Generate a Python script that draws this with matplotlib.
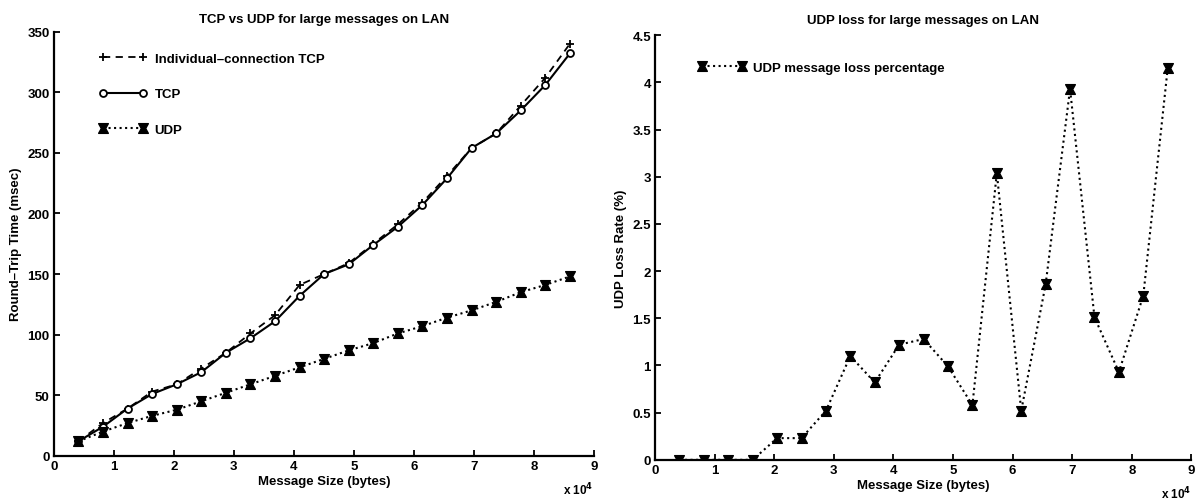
import numpy as np
import matplotlib.pyplot as plt
from matplotlib.path import Path
from matplotlib.ticker import FuncFormatter

plt.rcParams['font.family'] = ['Liberation Sans', 'DejaVu Sans']
plt.rcParams['font.weight'] = 'bold'
plt.rcParams['axes.titleweight'] = 'bold'
plt.rcParams['axes.labelweight'] = 'bold'

# message sizes: multiples of 4 KB
msg_size = [4096 * k for k in range(1, 22)]

tcp_individual = [12, 27, 39, 53, 59, 72, 85, 101, 116, 141, 150, 159,
                  175, 191, 209, 231, 254, 266, 289, 312, 340]
tcp = [12, 24, 39, 51, 59, 69, 85, 97, 111, 132, 150, 158,
       174, 189, 207, 229, 254, 266, 285, 306, 332]
udp = [12, 20, 27, 33, 38, 45, 52, 59, 66, 73, 80, 87,
       93, 101, 107, 114, 120, 127, 135, 141, 148]

udp_loss = [0, 0, 0, 0, 0.23, 0.23, 0.52, 1.10, 0.82, 1.22, 1.28, 0.99,
            0.58, 3.04, 0.52, 1.86, 3.93, 1.51, 0.93, 1.74, 4.15]

# hourglass shaped marker for the UDP points
hourglass = Path([(-1, 1), (1, 1), (0.45, 0), (1, -1), (-1, -1), (-0.45, 0), (-1, 1)],
                 [Path.MOVETO] + [Path.LINETO] * 5 + [Path.CLOSEPOLY])

fig = plt.figure(figsize=(11.96, 5.02), dpi=100)
ax1 = fig.add_axes([0.045, 0.090, 0.4515, 0.845])
ax2 = fig.add_axes([0.5477, 0.082, 0.4485, 0.846])

fs = 9.5


def style_axes(ax, ylim, yticks):
    ax.set_xlim(0, 9e4)
    ax.set_ylim(*ylim)
    ax.set_xticks([i * 1e4 for i in range(10)])
    ax.xaxis.set_major_formatter(FuncFormatter(lambda v, _: f"{v / 1e4:g}"))
    ax.set_yticks(yticks)
    ax.set_yticklabels([f"{v:g}" for v in yticks])
    for s in ['top', 'right']:
        ax.spines[s].set_visible(False)
    for s in ['left', 'bottom']:
        ax.spines[s].set_linewidth(1.6)
    ax.tick_params(direction='in', length=4, width=1.3, labelsize=fs, pad=3)
    ax.text(1.0, -0.078, r'x 10$^4$', transform=ax.transAxes, fontsize=fs - 1,
            ha='right', va='center')


# round-trip time
ax1.plot(msg_size, tcp_individual, '--', color='black', lw=1.3, marker='+',
         ms=6, mew=1.3, label='Individual\u2013connection TCP', dashes=(4, 3))
ax1.plot(msg_size, tcp, '-', color='black', lw=1.5, marker='o', ms=5,
         mfc='white', mew=1.3, label='TCP')
ax1.plot(msg_size, udp, ':', color='black', lw=1.5, marker=hourglass, ms=7,
         label='UDP')
style_axes(ax1, (0, 350), list(range(0, 351, 50)))
ax1.set_title('TCP vs UDP for large messages on LAN', fontsize=fs, pad=7)
ax1.set_xlabel('Message Size (bytes)', fontsize=fs, labelpad=2)
ax1.set_ylabel('Round\u2013Trip Time (msec)', fontsize=fs, labelpad=4)
ax1.legend(loc='upper left', bbox_to_anchor=(0.062, 0.978), frameon=False,
           fontsize=fs, handlelength=3.6, labelspacing=1.75,
           handletextpad=0.6, numpoints=2)

# UDP loss
ax2.plot(msg_size, udp_loss, ':', color='black', lw=1.5, marker=hourglass,
         ms=7, label='UDP message loss percentage')
style_axes(ax2, (0, 4.5), [0, 0.5, 1, 1.5, 2, 2.5, 3, 3.5, 4, 4.5])
ax2.set_title('UDP loss for large messages on LAN', fontsize=fs, pad=9)
ax2.set_xlabel('Message Size (bytes)', fontsize=fs, labelpad=2)
ax2.set_ylabel('UDP Loss Rate (%)', fontsize=fs, labelpad=4)
ax2.legend(loc='upper left', bbox_to_anchor=(0.058, 0.966), frameon=False,
           fontsize=fs, handlelength=3.6, handletextpad=0.6, numpoints=2)

fig.savefig('out.png', dpi=100)
